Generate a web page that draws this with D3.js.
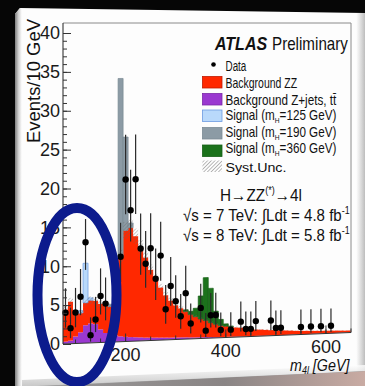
<!DOCTYPE html>
<html><head><meta charset="utf-8">
<script src="https://cdnjs.cloudflare.com/ajax/libs/d3/7.8.5/d3.min.js"></script>
<style>
html,body{margin:0;padding:0;background:#000;overflow:hidden}
svg{display:block}
</style></head><body>
<svg id="c" width="365" height="386" font-family="Liberation Sans, Arial, Helvetica, sans-serif"></svg>
<script>
// ---------------- DATA ----------------
// bin centres (GeV), 10 GeV wide bins
const massBins=[80,90,100,110,120,130,140,150,160,170,180,190,200,210,220,230,240,250,260,270,280,290,300,310,320,330,340,350,360,370,380,390,400,410,420,430,440,450,460,470,480,490,500,510,520,530,540,550,560,570,580,590,600,610,620,630,640,650];
const binWidth=10;
// Background Z+jets, ttbar
const zjets=[0.3,0.4,0.9,1.4,2.3,2.5,2.4,1.7,1.2,1.0, 0.8,0.7,0.6,0.55,0.5,0.45,0.4,0.38,0.35,0.32, 0.3,0.28,0.26,0.24,0.22,0.2,0.18,0.16,0.14,0.12, 0.1,0.09,0.08,0.07,0.06,0.05,0.05,0.05,0.04,0.04, 0.04,0.04,0.03,0.03,0.03,0.03,0.03,0.02,0.02,0.02, 0.02,0.02,0.02,0.02,0.02,0.02,0.02,0.02];
// Background ZZ
const zz=[4.1,5.0,2.9,2.5,2.9,3.0,3.0,3.3,3.5,3.6, 5.7,10.3,13.8,14.2,13.1,11.7,10.4,8.8,7.7,6.5, 5.5,4.8,4.2,3.8,3.4,3.0,2.7,2.4,2.2,1.9, 1.7,1.5,1.4,1.3,1.2,1.15,1.05,0.95,0.85,0.8, 0.75,0.7,0.66,0.62,0.57,0.52,0.48,0.46,0.43,0.4, 0.38,0.36,0.34,0.32,0.3,0.28,0.26,0.24];
// Signals
const sig125Mass=[110,120,130], sig125=[0.3,5.1,0.3];
const sig190Mass=[170,180,190,200,210], sig190=[0.3,2.0,23.1,12.1,0.6];
const sig360Mass=[320,330,340,350,360,370,380,390,400,410], sig360=[0.2,0.4,1.1,3.0,5.6,4.5,1.7,0.8,0.3,0.1];
// Systematic uncertainty on the background
const systUnc=[0.4,0.5,0.35,0.35,0.45,0.5,0.5,0.45,0.4,0.4, 0.55,0.9,1.1,1.1,1.0,0.9,0.8,0.7,0.6,0.5, 0.45,0.4,0.35,0.3,0.28,0.25,0.22,0.2,0.18,0.16, 0.14,0.12,0.11,0.1,0.1,0.09,0.08,0.08,0.07,0.07, 0.06,0.06,0.05,0.05,0.05,0.05,0.04,0.04,0.04,0.04, 0.03,0.03,0.03,0.03,0.03,0.03,0.03,0.03];
// Data
const dataMass=[80,90,100,110,120,130,140,150,160, 190,200,210,220,230,240,250,260,270,280,290,300,310,320, 330,350,360,370,380,390, 410, 430,440,450,460, 490,500,510, 550,570,590,610];
const dataCount=[4,2,4,6,13,1,3,6,5, 11,21,17,21,12,10,12,8,11,4,7,5,3,6, 2,4,1,3,3,1, 1, 2,1,1,2, 2,1,1, 1,1,1,1];
const dataLow=[2.09,0.71,2.09,3.62,9.44,0.17,1.37,3.62,2.84, 7.73,16.5,12.94,16.5,8.58,6.89,8.58,5.23,7.73,2.09,4.42,2.84,1.37,3.62, 0.71,2.09,0.17,1.37,1.37,0.17, 0.17, 0.71,0.17,0.17,0.71, 0.71,0.17,0.17, 0.17,0.17,0.17,0.17];
const dataHigh=[7.16,4.64,7.16,9.58,16.0,3.30,5.92,9.58,8.38, 15.42,26.8,22.24,26.8,16.56,14.27,16.56,11.95,15.42,7.16,10.77,8.38,5.92,9.58, 4.64,7.16,3.30,5.92,5.92,3.30, 3.30, 4.64,3.30,3.30,4.64, 4.64,3.30,3.30, 3.30,3.30,3.30,3.30];
const yTickValues=[0,5,10,15,20,25,30,35,40];
const xTickValues=[200,400,600];

// ---------------- LAYOUT ----------------
const X0=63,X1=351,YT=23,YB=344,TILT=0.036;
const x=d3.scaleLinear().domain([75,650]).range([X0,X1]).clamp(true);
const y=d3.scaleLinear().domain([0,40]).range([YB,33]);
const wy=(px,py)=>YT+(py-YT)*(1-TILT*(px-X0)/(X1-X0));   // photo perspective
const P=(gev,v)=>{const px=x(gev);return [px,wy(px,y(v))];};
const line=d3.line();

const svg=d3.select("#c");
const defs=svg.append("defs");
function lg(id,x1,y1,x2,y2,stops){const g=defs.append("linearGradient").attr("id",id).attr("x1",x1).attr("y1",y1).attr("x2",x2).attr("y2",y2);stops.forEach(s=>g.append("stop").attr("offset",s[0]).attr("stop-color",s[1]));}
lg("gLeft",0,0,1,0,[[0,"#7d7d7d"],[0.5,"#cfcfcf"],[1,"#ffffff"]]);
lg("gRight",0,0,1,0,[[0,"#ffffff"],[0.6,"#d9d9d9"],[1,"#bdbdbd"]]);
lg("gBot",0,0,1,0,[[0,"#9a9a9a"],[0.6,"#8a8585"],[1,"#c9aba3"]]);
lg("gBev",0,0,0,1,[[0,"#ffffff"],[1,"#b9b9b9"]]);
const hp=defs.append("pattern").attr("id","hatch").attr("patternUnits","userSpaceOnUse").attr("width",2.6).attr("height",2.6).attr("patternTransform","rotate(45)");
hp.append("line").attr("x1",0).attr("y1",0).attr("x2",0).attr("y2",2.6).attr("stroke","#666").attr("stroke-width",0.9);
const clipPts=[[X0,YT],[X1,YT],[X1,wy(X1,YB)],[X0,YB]];
defs.append("clipPath").attr("id","plotclip").append("path").attr("d",line(clipPts)+"Z");

// ---------------- BACKGROUND / CARD ----------------
svg.append("rect").attr("width",365).attr("height",386).attr("fill","#060606");
svg.append("polygon").attr("points","15,387 365,371 365,386 15,386").attr("fill","url(#gBot)");
svg.append("polygon").attr("points","15,14 20,8 365,13 365,371 15,387").attr("fill","#fdfdfd");
svg.append("polygon").attr("points","15,14 20,8 22,8 22,387 15,387").attr("fill","url(#gLeft)");
svg.append("polygon").attr("points","356,13 365,13 365,371 356,371").attr("fill","url(#gRight)");
svg.append("polygon").attr("points","22,380 365,365 365,371 22,387").attr("fill","url(#gBev)").attr("opacity",0.8);

// ---------------- HISTOGRAM ----------------
const full=(ms,vs)=>{const m=new Map(ms.map((d,i)=>[d,vs[i]]));return massBins.map(b=>m.get(b)||0);};
const s125f=full(sig125Mass,sig125), s190f=full(sig190Mass,sig190), s360f=full(sig360Mass,sig360);
const rows=massBins.map((m,i)=>({mass:m,zjets:zjets[i],zz:zz[i],s125:s125f[i],s190:s190f[i],s360:s360f[i]}));
const keys=["zjets","zz","s125","s190","s360"];
const colors={zjets:"#9a38d0",zz:"#ff2800",s125:"#b9d9fb",s190:"#8c9ba5",s360:"#1b721b"};
const strokes={s125:"#6d9be0",s190:"#7a8a94",s360:"#176017"};
const series=d3.stack().keys(keys)(rows);
const gp=svg.append("g").attr("clip-path","url(#plotclip)");
function quad(m,lo,hi){return line([P(m-binWidth/2,lo),P(m+binWidth/2,lo),P(m+binWidth/2,hi),P(m-binWidth/2,hi)])+"Z";}
function stepPath(lo,hi){
  const top=[],bot=[];
  rows.forEach((r,i)=>{top.push(P(r.mass-binWidth/2,hi[i]),P(r.mass+binWidth/2,hi[i]));});
  for(let i=rows.length-1;i>=0;i--){const r=rows[i];bot.push(P(r.mass+binWidth/2,lo[i]),P(r.mass-binWidth/2,lo[i]));}
  return line(top.concat(bot))+"Z";
}
series.forEach(s=>{
  if(s.key==="zjets"||s.key==="zz"){
    gp.append("path").attr("d",stepPath(s.map(d=>d[0]),s.map(d=>d[1]))).attr("fill",colors[s.key]);
  } else {
    gp.selectAll(null).data(s.filter(d=>d[1]-d[0]>0)).enter().append("path")
      .attr("d",d=>quad(d.data.mass,d[0],d[1])).attr("fill",colors[s.key]).attr("stroke",strokes[s.key]).attr("stroke-width",0.7);
  }
});
// syst band
gp.selectAll(null).data(rows).enter().append("path")
  .attr("d",(r,i)=>{const b=r.zjets+r.zz;return quad(r.mass,Math.max(0,b-systUnc[i]),b+systUnc[i]);})
  .attr("fill","url(#hatch)").attr("opacity",0.75);

// ---------------- DATA ----------------
const gd=svg.append("g");
gd.selectAll(null).data(dataMass).enter().append("path")
  .attr("d",(m,i)=>line([P(m,dataLow[i]),P(m,dataHigh[i])]))
  .attr("stroke","#2a2a2a").attr("stroke-width",1.2);
gd.selectAll(null).data(dataMass).enter().append("circle")
  .attr("cx",m=>P(m,0)[0]).attr("cy",(m,i)=>P(m,dataCount[i])[1]).attr("r",3.2).attr("fill","#000");

// ---------------- FRAME / AXES ----------------
svg.append("path").attr("d",line([[X0,YT],[X1,YT],[X1,wy(X1,YB)]])).attr("fill","none").attr("stroke","#8a8a8a").attr("stroke-width",1);
svg.append("path").attr("d",line([[X0,YB],[X1,wy(X1,YB)]])).attr("fill","none").attr("stroke","#333").attr("stroke-width",1.1);
svg.append("path").attr("d",line([[X0,YT],[X0,YB]])).attr("fill","none").attr("stroke","#333").attr("stroke-width",1.1);

const gyMinor=svg.append("g").attr("transform",`translate(${X0},0)`)
  .call(d3.axisLeft(y).tickValues(y.ticks(40)).tickSize(-4).tickFormat(""));
gyMinor.select(".domain").remove();
gyMinor.selectAll("line").attr("stroke","#333");
const gy=svg.append("g").attr("transform",`translate(${X0},0)`)
  .call(d3.axisLeft(y).tickValues(yTickValues).tickSize(-8).tickPadding(3).tickFormat(d3.format("d")));
gy.select(".domain").remove();
gy.attr("font-family",null).attr("font-size",18);
gy.selectAll("line").attr("stroke","#333");
gy.selectAll("text").attr("fill","#1a1a1a");

const gxMinor=svg.append("g").call(d3.axisBottom(x).tickValues(x.ticks(12)).tickSize(-4).tickFormat(""));
gxMinor.select(".domain").remove();
gxMinor.selectAll(".tick").attr("transform",d=>`translate(${x(d)},${wy(x(d),YB)})`);
gxMinor.selectAll("line").attr("stroke","#333");
const gx=svg.append("g").call(d3.axisBottom(x).tickValues(xTickValues).tickSize(-8).tickPadding(7));
gx.select(".domain").remove();
gx.attr("font-family",null).attr("font-size",18);
gx.selectAll(".tick").attr("transform",d=>`translate(${x(d)},${wy(x(d),YB)})`);
gx.selectAll("line").attr("stroke","#333");
gx.selectAll("text").attr("fill","#1a1a1a");

// ---------------- TEXT ----------------
function label(x0,y0,size,width,build,opts){
  opts=opts||{};
  const t=svg.append("text").attr("x",0).attr("y",0).attr("font-size",size).attr("fill","#111");
  if(opts.weight) t.attr("font-weight",opts.weight);
  if(opts.style) t.attr("font-style",opts.style);
  if(opts.anchor) t.attr("text-anchor",opts.anchor);
  build(t);
  const w0=t.node().getBBox().width;
  const sx=width?width/w0:1;
  t.attr("transform",`translate(${x0},${y0})${opts.rotate?` rotate(${opts.rotate})`:""} scale(${sx},1)`);
  return t;
}
const txt=s=>t=>t.append("tspan").text(s);
label(40,81,18,124,txt("Events/10 GeV"),{anchor:"middle",rotate:-90});
label(290,371,16,60,t=>{t.append("tspan").attr("font-style","italic").text("m");t.append("tspan").attr("font-size",10).attr("font-style","italic").attr("dy",3).text("4l");t.append("tspan").attr("dy",-3).attr("font-style","italic").text(" [GeV]");});
label(215,49.5,18,53,txt("ATLAS"),{weight:"bold",style:"italic"});
label(272,49.5,18,76,txt("Preliminary"));

// legend
svg.append("circle").attr("cx",213.5).attr("cy",64.5).attr("r",2.3).attr("fill","#000");
label(225.5,70.5,14,21,txt("Data"));
const legBoxes=[
  {y:76.5,fill:colors.zz,stroke:"#c01a00"},
  {y:93.5,fill:colors.zjets,stroke:"#7a28a8"},
  {y:110,fill:colors.s125,stroke:strokes.s125},
  {y:127.5,fill:colors.s190,stroke:strokes.s190},
  {y:145,fill:colors.s360,stroke:strokes.s360},
  {y:160.5,fill:"url(#hatch)",stroke:"none"}];
svg.selectAll(null).data(legBoxes).enter().append("rect")
  .attr("x",202.5).attr("y",d=>d.y).attr("width",19.5).attr("height",11.5)
  .attr("fill",d=>d.fill).attr("stroke",d=>d.stroke).attr("stroke-width",0.8);
label(225.5,87.5,14,72,txt("Background ZZ"));
label(225.5,104.5,14,111,txt("Background Z+jets, tt\u0304"));
const sigLabel=m=>t=>{t.append("tspan").text("Signal (m");t.append("tspan").attr("font-size",8).attr("dy",3).text("H");t.append("tspan").attr("dy",-3).text("="+m+" GeV)");};
label(225.5,119.5,14,111,sigLabel(125));
label(225.5,136.5,14,111,sigLabel(190));
label(225.5,153,14,111,sigLabel(360));
label(225.5,172,13,61,txt("Syst.Unc."));

label(220,201,17,82,t=>{t.append("tspan").text("H\u2192ZZ");t.append("tspan").attr("font-size",10).attr("dy",-7).text("(*)");t.append("tspan").attr("dy",7).text("\u21924l");});
label(183,221,17,167,t=>{t.append("tspan").text("\u221As = 7 TeV: \u222BLdt = 4.8 fb");t.append("tspan").attr("font-size",10).attr("dy",-7).text("-1");});
label(183,241,17,167,t=>{t.append("tspan").text("\u221As = 8 TeV: \u222BLdt = 5.8 fb");t.append("tspan").attr("font-size",10).attr("dy",-7).text("-1");});

// annotation ellipse
svg.append("ellipse").attr("cx",77).attr("cy",295).attr("rx",39.5).attr("ry",87)
  .attr("fill","none").attr("stroke","#0c1b8d").attr("stroke-width",10);
</script>
</body></html>
